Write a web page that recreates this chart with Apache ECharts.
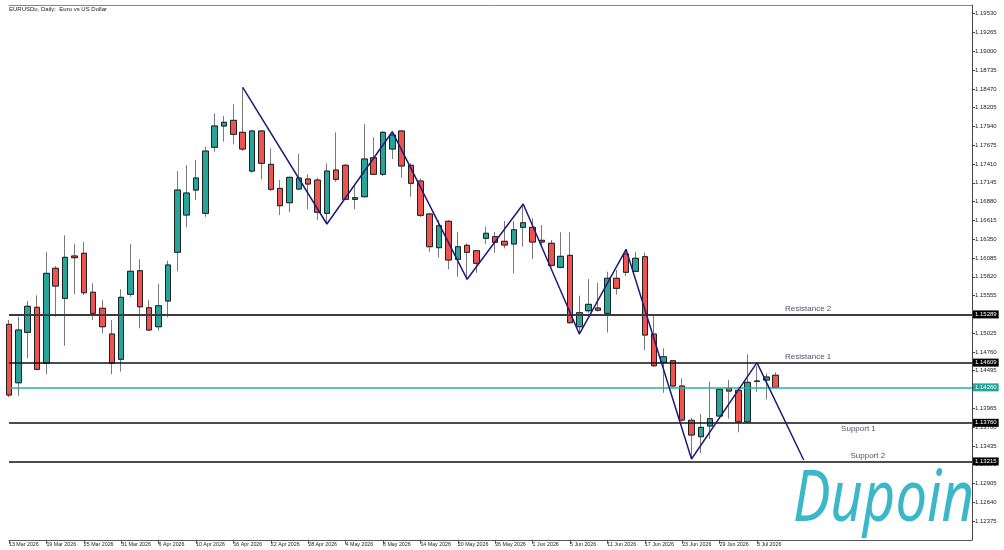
<!DOCTYPE html>
<html><head><meta charset="utf-8">
<script src="https://cdn.jsdelivr.net/npm/echarts@6/dist/echarts.min.js"></script>
<style>html,body{margin:0;padding:0;background:#fff}#c{width:1004px;height:550px}</style>
</head><body><div id="c"></div>
<script>
const title = 'EURUSDu, Daily:  Euro vs US Dollar';
const dates = ['13 Mar 2026','16 Mar 2026','17 Mar 2026','18 Mar 2026','19 Mar 2026','20 Mar 2026','23 Mar 2026','24 Mar 2026','25 Mar 2026','26 Mar 2026',
'27 Mar 2026','30 Mar 2026','31 Mar 2026','1 Apr 2026','2 Apr 2026','3 Apr 2026','6 Apr 2026','7 Apr 2026','8 Apr 2026','9 Apr 2026',
'10 Apr 2026','13 Apr 2026','14 Apr 2026','15 Apr 2026','16 Apr 2026','17 Apr 2026','20 Apr 2026','21 Apr 2026','22 Apr 2026','23 Apr 2026',
'24 Apr 2026','27 Apr 2026','28 Apr 2026','29 Apr 2026','30 Apr 2026','1 May 2026','4 May 2026','5 May 2026','6 May 2026','7 May 2026',
'8 May 2026','11 May 2026','12 May 2026','13 May 2026','14 May 2026','15 May 2026','18 May 2026','19 May 2026','20 May 2026','21 May 2026',
'22 May 2026','25 May 2026','26 May 2026','27 May 2026','28 May 2026','29 May 2026','1 Jun 2026','2 Jun 2026','3 Jun 2026','4 Jun 2026',
'5 Jun 2026','8 Jun 2026','9 Jun 2026','10 Jun 2026','11 Jun 2026','12 Jun 2026','15 Jun 2026','16 Jun 2026','17 Jun 2026','18 Jun 2026',
'19 Jun 2026','22 Jun 2026','23 Jun 2026','24 Jun 2026','25 Jun 2026','26 Jun 2026','29 Jun 2026','30 Jun 2026','1 Jul 2026','2 Jul 2026',
'3 Jul 2026','6 Jul 2026','7 Jul 2026'];
const openP = [
1.15149,1.14325,1.15036,1.15389,1.14599,1.15939,1.15516,1.16113,1.16151,1.15601,
1.15375,1.15012,1.14656,1.15572,1.15905,1.15383,1.15115,1.15478,1.16165,1.16691,
1.17043,1.16715,1.17646,1.17946,1.18026,1.17857,1.17311,1.17876,1.17406,1.17067,
1.16864,1.17057,1.17199,1.17184,1.16715,1.17325,1.17392,1.16912,1.16949,1.17499,
1.17265,1.17622,1.17876,1.17392,1.17170,1.16705,1.16230,1.16602,1.16066,1.16263,
1.16187,1.16362,1.16385,1.16320,1.16282,1.16517,1.16517,1.16334,1.16292,1.15953,
1.16122,1.15115,1.15341,1.15379,1.15304,1.15798,1.16141,1.15897,1.16103,1.15012,
1.14613,1.14636,1.14279,1.13795,1.13564,1.13715,1.13856,1.14246,1.14218,1.13775,
1.14349,1.14363,1.14430];
const closeP = [
1.14152,1.15069,1.15403,1.14514,1.15868,1.15689,1.16094,1.16089,1.15595,1.15304,
1.15115,1.14599,1.15530,1.15897,1.15397,1.15069,1.15411,1.15986,1.17043,1.17001,
1.17213,1.17593,1.17946,1.17998,1.17829,1.17622,1.17876,1.17420,1.17053,1.16822,
1.17222,1.17213,1.17128,1.16729,1.17311,1.17194,1.16912,1.16935,1.17481,1.17265,
1.17857,1.17819,1.17382,1.17138,1.16687,1.16244,1.16540,1.16056,1.16244,1.16165,
1.16010,1.16433,1.16306,1.16268,1.16483,1.16582,1.16310,1.16310,1.15981,1.16108,
1.15172,1.15313,1.15431,1.15347,1.15798,1.15657,1.15883,1.16080,1.14998,1.14565,
1.14692,1.14279,1.13799,1.13588,1.13696,1.13818,1.14232,1.14208,1.13775,1.14331,
1.14345,1.14406,1.14260];
const lowP = [
1.14124,1.14142,1.14670,1.14505,1.14444,1.15256,1.14847,1.15577,1.15562,1.15210,
1.15022,1.14444,1.14481,1.15538,1.15093,1.15055,1.15059,1.15248,1.15897,1.16517,
1.16902,1.16667,1.17584,1.17725,1.17688,1.17594,1.17287,1.17194,1.17029,1.16691,
1.16729,1.17043,1.16771,1.16620,1.16564,1.17160,1.16902,1.16771,1.16940,1.17255,
1.17241,1.17481,1.17217,1.16949,1.16663,1.16173,1.16089,1.15925,1.15820,1.15784,
1.15877,1.16282,1.16159,1.16221,1.15868,1.16244,1.16070,1.16244,1.15962,1.15939,
1.15163,1.15012,1.15304,1.15327,1.15034,1.15567,1.15830,1.15887,1.14787,1.14551,
1.14184,1.14269,1.13775,1.13249,1.13330,1.13531,1.13846,1.13818,1.13626,1.13767,
1.14198,1.14091,1.14255];
const highP = [
1.15210,1.15256,1.15478,1.15558,1.16165,1.15971,1.16404,1.16286,1.16310,1.15727,
1.15488,1.15210,1.15643,1.16282,1.16066,1.15492,1.15718,1.16046,1.17311,1.17396,
1.17466,1.17654,1.18125,1.18087,1.18252,1.18492,1.17890,1.17890,1.17632,1.17184,
1.17231,1.17551,1.17265,1.17217,1.17420,1.17857,1.17410,1.17114,1.17974,1.17787,
1.17876,1.17866,1.17890,1.17420,1.17208,1.16723,1.16620,1.16620,1.16455,1.16292,
1.16197,1.16526,1.16455,1.16606,1.16606,1.16846,1.16644,1.16550,1.16338,1.16447,
1.16447,1.15553,1.15788,1.15736,1.15891,1.15915,1.16207,1.16173,1.16159,1.15280,
1.14811,1.14646,1.14387,1.13832,1.13884,1.14340,1.14246,1.14363,1.14269,1.14726,
1.14561,1.14458,1.14472];
const zigzagIdx = [25,34,41,49,55,61,66,73,80,85];
const zigzagPrice = [1.18492,1.16564,1.17866,1.15784,1.16846,1.15012,1.16207,1.13249,1.14608,1.13235];
const levelValues = [1.15289,1.14609,1.13760,1.13215];
const levelNames = ['Resistance 2','Resistance 1','Support 1','Support 2'];
const levelLabelIdx = [83,83,89,90];
const levelLabelSide = ['top','top','bottom','top'];
const lastPrice = 1.14260;
const yMin = 1.12110, yStep = 0.00265, yMax = 1.19653;
const totalSlots = 104;
const logoText = 'Dupoin';

const cats = dates.slice();
while (cats.length < totalSlots) cats.push('');
const showIdx = (i) => i % 4 === 0 && i < dates.length;

const wickData = openP.map((o,i) => [o, closeP[i], lowP[i], highP[i]]);
const bodyData = openP.map((o,i) => [o, closeP[i], Math.min(o, closeP[i]), Math.max(o, closeP[i])]);

const UP = '#26a69a', DOWN = '#ef5350';
const tag = (bg) => ({show:true, position:'end', distance:1, formatter:(p)=>Number(p.value).toFixed(5),
  backgroundColor:bg, color:'#fff', fontSize:6, fontFamily:'Liberation Sans', padding:[1,2,1,2]});

const chart = echarts.init(document.getElementById('c'), null, {renderer:'canvas'});
chart.setOption({
  animation:false,
  backgroundColor:'#fff',
  grid:{left:9, right:32, top:5, bottom:10.2},
  xAxis:[{
    type:'category', data:cats, boundaryGap:false,
    axisLine:{lineStyle:{color:'#555', width:1}},
    axisTick:{interval:showIdx, length:4, lineStyle:{color:'#555'}},
    axisLabel:{interval:showIdx, align:'left', margin:2, fontSize:5.3, color:'#222', fontFamily:'Liberation Sans'},
    splitLine:{show:false}
  },{
    type:'category', data:cats, boundaryGap:false, position:'top',
    axisLine:{lineStyle:{color:'#888', width:1}}, axisTick:{show:false}, axisLabel:{show:false}
  }],
  yAxis:{
    type:'value', position:'right', min:yMin, max:yMax, interval:yStep,
    axisLine:{show:true, lineStyle:{color:'#444'}},
    axisTick:{show:true, length:3, lineStyle:{color:'#444'}},
    axisLabel:{fontSize:6, margin:3, color:'#222', fontFamily:'Liberation Sans',
      formatter:(v)=>v.toFixed(5), showMinLabel:false, showMaxLabel:false},
    splitLine:{show:false}
  },
  graphic:[
    {type:'text', left:9, top:6, style:{text:title, font:'6px "Liberation Sans"', fill:'#222'}},
    {type:'text', right:30, bottom:14, scaleX:0.78, originX:140, style:{text:logoText, font:'italic 72px "Noto Sans"', fill:'#3ab7c8'}}
  ],
  series:[
    {type:'candlestick', data:wickData, barWidth:6, z:2, clip:true,
     itemStyle:{color:UP, color0:DOWN, borderColor:'#7a7a7a', borderColor0:'#7a7a7a', borderWidth:1}},
    {type:'candlestick', data:bodyData, barWidth:6, z:3, clip:true,
     itemStyle:{color:UP, color0:DOWN, borderColor:'#222', borderColor0:'#222', borderWidth:1}},
    {type:'line', name:'levels', data:[], z:4, symbol:'none',
     markLine:{symbol:['none','none'], silent:true, precision:5,
       data:[
         {yAxis:levelValues[0], lineStyle:{color:'#3c3c3c', width:2, type:'solid'}, label:tag('#000')},
         {yAxis:levelValues[1], lineStyle:{color:'#111111', width:1.5, type:'solid'}, label:tag('#000')},
         {yAxis:lastPrice, lineStyle:{color:'#1fb3a5', width:1.5, type:'solid'}, label:tag('#26a69a')},
         {yAxis:levelValues[2], lineStyle:{color:'#111111', width:1.5, type:'solid'}, label:tag('#000')},
         {yAxis:levelValues[3], lineStyle:{color:'#111111', width:1.5, type:'solid'}, label:tag('#000')}
       ]}},
    {type:'line', data:zigzagIdx.map((x,i)=>[x, zigzagPrice[i]]), symbol:'none', z:5,
     lineStyle:{color:'#1c1c78', width:1.5}},
    {type:'scatter', symbolSize:0, z:6,
     data:levelNames.map((n,i)=>({name:n, value:[levelLabelIdx[i], levelValues[i]],
       label:{position:levelLabelSide[i]}})),
     label:{show:true, formatter:'{b}', align:'left', distance:2, fontSize:8, color:'#1e1e40', fontFamily:'Liberation Sans'}}
  ]
});
</script></body></html>
